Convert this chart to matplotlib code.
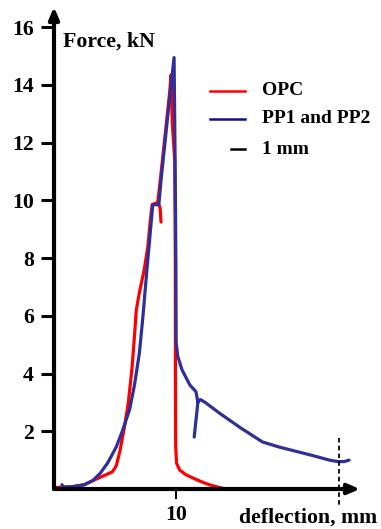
import numpy as np
import matplotlib
matplotlib.use("Agg")
import matplotlib.pyplot as plt

plt.rcParams['font.family'] = ['Liberation Serif', 'DejaVu Serif']
plt.rcParams['font.weight'] = 'bold'

# Load–deflection curves (deflection in mm, force in kN)
opc_x = [0.0, 1.5, 2.5, 3.5, 4.3, 4.8, 5.1, 5.4, 5.8, 6.1, 6.4, 6.6, 6.75, 7.0, 7.4,
         7.7, 7.9, 8.05, 8.3, 8.53, 8.7, 8.78, np.nan,
         8.5, 8.72, 9.2, 9.5, 9.6, 9.7, 9.9, 9.95, 9.96, 9.98, 10.05, 10.3, 10.8, 11.4,
         12.1, 12.8, 13.4, 13.9]
opc_y = [0.05, 0.08, 0.15, 0.35, 0.5, 0.6, 0.8, 1.3, 2.2, 3.0, 4.2, 5.3, 6.2, 6.8, 7.6,
         8.4, 9.3, 9.85, 9.9, 9.9, 9.75, 9.25, np.nan,
         9.9, 10.7, 12.6, 13.8, 14.35, 12.7, 11.4, 8.0, 4.0, 1.5, 0.9, 0.66, 0.5, 0.38,
         0.25, 0.14, 0.07, 0.02]

pp_x = [0.65, 0.75, 1.5, 2.5, 3.2, 3.8, 4.4, 5.1, 5.6, 6.2, 6.6, 7.0, 7.3, 7.6, 7.9,
        8.1, 8.6, 8.78, 9.3, 9.85, 9.92, 9.97, 10.0, 10.02, 10.15, 10.5, 11.15, 11.65,
        11.8, 11.5, np.nan,
        11.8, 12.0, 12.4, 13.6, 15.3, 17.1, 18.5, 19.9, 21.3, 22.6, 23.3, 23.8, 24.2]
pp_y = [0.15, 0.07, 0.08, 0.15, 0.3, 0.55, 0.9, 1.45, 2.0, 2.75, 3.6, 4.7, 6.0, 7.5, 8.9,
        9.85, 9.85, 10.7, 12.8, 14.95, 12.0, 9.5, 7.7, 5.07, 4.6, 4.13, 3.6, 3.37,
        3.0, 1.8, np.nan,
        3.0, 3.1, 3.0, 2.62, 2.12, 1.63, 1.45, 1.3, 1.15, 1.0, 0.95, 0.95, 1.0]

y_ticks = [2, 4, 6, 8, 10, 12, 14, 16]
x_ticks = [10]
x_max, y_max = 25.1, 16.7
limit_defl = 23.38

red = '#ff0000'
blue = '#2f2f9c'
legend_blue = '#10108a'
fs = 15.7
legend_fs = 14

fig = plt.figure(figsize=(3.81, 5.29), dpi=100)
ax = fig.add_axes([54 / 381, 1 - 489 / 529, 306 / 381, 482 / 529])
ax.set_xlim(0, x_max)
ax.set_ylim(0, y_max)
for s in ax.spines.values():
    s.set_visible(False)

# Axes drawn as arrows
arrow_kw = dict(arrowstyle='-|>,head_length=0.7,head_width=0.3', lw=3,
                color='black', shrinkA=0, shrinkB=0)
ax.annotate('', xy=(x_max, 0), xytext=(0, 0), arrowprops=arrow_kw,
            annotation_clip=False)
ax.annotate('', xy=(0, y_max), xytext=(0, 0), arrowprops=arrow_kw,
            annotation_clip=False)

ax.set_yticks(y_ticks)
ax.set_xticks(x_ticks)
ax.tick_params(axis='y', direction='out', length=9.5, width=2.2, pad=5,
               labelsize=fs)
ax.tick_params(axis='x', direction='out', length=7.5, width=1.5, pad=4,
               labelsize=fs)
for lab in ax.get_xticklabels() + ax.get_yticklabels():
    lab.set_fontweight('bold')

ax.plot(opc_x, opc_y, color=red, lw=2.3, solid_capstyle='round', clip_on=False)
ax.plot(pp_x, pp_y, color=blue, lw=2.3, solid_capstyle='round', clip_on=False)

# 1 mm limit marker
ax.plot([limit_defl, limit_defl], [1.77, -0.62], color='black', lw=1.3,
        ls=(0, (2.5, 1.8)), clip_on=False)

ax.text(0.74, 15.5, 'Force, kN', fontsize=fs, fontweight='bold',
        ha='left', va='center')
ax.text(15.2, -1.0, 'deflection, mm', fontsize=fs, fontweight='bold',
        ha='left', va='center', clip_on=False)

# Legend
ax.plot([12.8, 15.7], [13.8, 13.8], color=red, lw=1.8)
ax.plot([12.8, 15.7], [12.83, 12.83], color=legend_blue, lw=1.8)
ax.plot([14.5, 15.7], [11.77, 11.77], color='black', lw=1.8)
ax.text(17.1, 13.8, 'OPC', fontsize=legend_fs, fontweight='bold', va='center')
ax.text(17.1, 12.83, 'PP1 and PP2', fontsize=legend_fs, fontweight='bold',
        va='center')
ax.text(17.1, 11.77, '1 mm', fontsize=legend_fs, fontweight='bold', va='center')

fig.savefig('out.png', dpi=100)
